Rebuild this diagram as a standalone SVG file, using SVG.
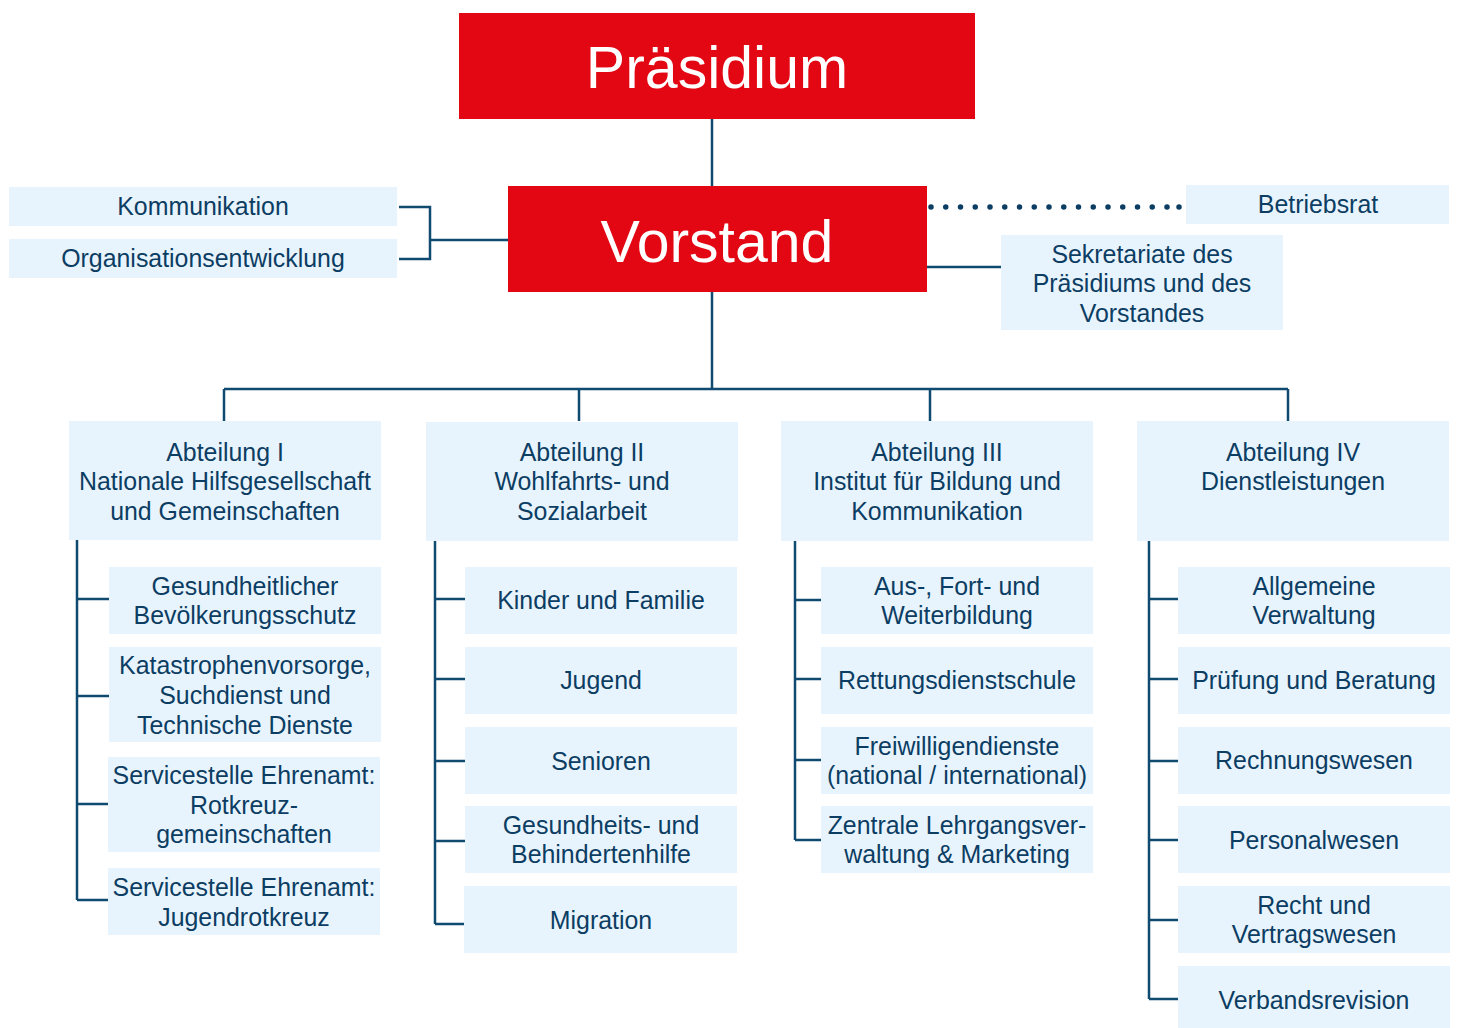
<svg xmlns="http://www.w3.org/2000/svg" width="1457" height="1028" viewBox="0 0 1457 1028">
<style>
.red{fill:#e30613}
.box{fill:#e8f4fd}
.big{font-family:"Liberation Sans",Arial,sans-serif;font-size:59px;fill:#ffffff;text-anchor:middle}
.t{font-family:"Liberation Sans",Arial,sans-serif;font-size:24.9px;fill:#0c3d63;text-anchor:middle}
.ln{stroke:#0f4a70;stroke-width:2.5;fill:none}
.dot{stroke:#0c3d63;stroke-width:5.5;stroke-linecap:round;stroke-dasharray:0 14.75;fill:none}
</style>
<rect width="1457" height="1028" fill="#ffffff"/>
<g id="connectors">
<path class="ln" d="M712 119V186M712 292V389M224 389H1288M224 389V421M579 389V421M930 389V421M1288 389V421"/>
<path class="ln" d="M399 207H430V259H399M430 240H508"/>
<path class="ln" d="M927 267H1001"/>
<path class="dot" d="M931 207H1168"/>
<circle cx="1179" cy="207" r="2.75" fill="#0c3d63"/>
<path class="ln" d="M77 540V900M77 599H109M77 696H109M77 804H108M77 900H108"/>
<path class="ln" d="M435 541V924M435 599H465M435 679H465M435 761H465M435 841H465M435 924H464"/>
<path class="ln" d="M795 541V840M795 600H821M795 679H821M795 760H821M795 840H821"/>
<path class="ln" d="M1149 541V999M1149 599H1178M1149 679H1178M1149 761H1178M1149 840H1178M1149 920H1178M1149 999H1178"/>
</g>
<g id="praesidium"><rect class="red" x="459" y="13" width="516" height="106"/><text class="big" x="717" y="88">Präsidium</text></g>
<g id="vorstand"><rect class="red" x="508" y="186" width="419" height="106"/><text class="big" x="717" y="262">Vorstand</text></g>
<g id="kommunikation"><rect class="box" x="9" y="187" width="388" height="39"/><text class="t" x="203" y="215">Kommunikation</text></g>
<g id="organisationsentwicklung"><rect class="box" x="9" y="239" width="388" height="39"/><text class="t" x="203" y="267">Organisationsentwicklung</text></g>
<g id="betriebsrat"><rect class="box" x="1186" y="185" width="263" height="39"/><text class="t" x="1318" y="213">Betriebsrat</text></g>
<g id="sekretariate"><rect class="box" x="1001" y="235" width="282" height="95"/><text class="t" x="1142" y="263">Sekretariate des</text><text class="t" x="1142" y="292">Präsidiums und des</text><text class="t" x="1142" y="322">Vorstandes</text></g>
<g id="abt1"><rect class="box" x="69" y="421" width="312" height="119"/><text class="t" x="225" y="461">Abteilung I</text><text class="t" x="225" y="490">Nationale Hilfsgesellschaft</text><text class="t" x="225" y="520">und Gemeinschaften</text></g>
<g id="abt1-1"><rect class="box" x="109" y="567" width="272" height="67"/><text class="t" x="245" y="595">Gesundheitlicher</text><text class="t" x="245" y="624">Bevölkerungsschutz</text></g>
<g id="abt1-2"><rect class="box" x="109" y="647" width="272" height="95"/><text class="t" x="245" y="674">Katastrophenvorsorge,</text><text class="t" x="245" y="704">Suchdienst und</text><text class="t" x="245" y="734">Technische Dienste</text></g>
<g id="abt1-3"><rect class="box" x="108" y="757" width="272" height="95"/><text class="t" x="244" y="784">Servicestelle Ehrenamt:</text><text class="t" x="244" y="814">Rotkreuz-</text><text class="t" x="244" y="843">gemeinschaften</text></g>
<g id="abt1-4"><rect class="box" x="108" y="868" width="272" height="67"/><text class="t" x="244" y="896">Servicestelle Ehrenamt:</text><text class="t" x="244" y="926">Jugendrotkreuz</text></g>
<g id="abt2"><rect class="box" x="426" y="422" width="312" height="119"/><text class="t" x="582" y="461">Abteilung II</text><text class="t" x="582" y="490">Wohlfahrts- und</text><text class="t" x="582" y="520">Sozialarbeit</text></g>
<g id="abt2-1"><rect class="box" x="465" y="567" width="272" height="67"/><text class="t" x="601" y="609">Kinder und Familie</text></g>
<g id="abt2-2"><rect class="box" x="465" y="647" width="272" height="67"/><text class="t" x="601" y="689">Jugend</text></g>
<g id="abt2-3"><rect class="box" x="465" y="727" width="272" height="67"/><text class="t" x="601" y="770">Senioren</text></g>
<g id="abt2-4"><rect class="box" x="465" y="806" width="272" height="67"/><text class="t" x="601" y="834">Gesundheits- und</text><text class="t" x="601" y="863">Behindertenhilfe</text></g>
<g id="abt2-5"><rect class="box" x="464" y="886" width="273" height="67"/><text class="t" x="601" y="929">Migration</text></g>
<g id="abt3"><rect class="box" x="781" y="421" width="312" height="120"/><text class="t" x="937" y="461">Abteilung III</text><text class="t" x="937" y="490">Institut für Bildung und</text><text class="t" x="937" y="520">Kommunikation</text></g>
<g id="abt3-1"><rect class="box" x="821" y="567" width="272" height="67"/><text class="t" x="957" y="595">Aus-, Fort- und</text><text class="t" x="957" y="624">Weiterbildung</text></g>
<g id="abt3-2"><rect class="box" x="821" y="647" width="272" height="67"/><text class="t" x="957" y="689">Rettungsdienstschule</text></g>
<g id="abt3-3"><rect class="box" x="821" y="727" width="272" height="67"/><text class="t" x="957" y="755">Freiwilligendienste</text><text class="t" x="957" y="784">(national / international)</text></g>
<g id="abt3-4"><rect class="box" x="821" y="806" width="272" height="67"/><text class="t" x="957" y="834">Zentrale Lehrgangsver-</text><text class="t" x="957" y="863">waltung &amp; Marketing</text></g>
<g id="abt4"><rect class="box" x="1137" y="421" width="312" height="120"/><text class="t" x="1293" y="461">Abteilung IV</text><text class="t" x="1293" y="490">Dienstleistungen</text></g>
<g id="abt4-1"><rect class="box" x="1178" y="567" width="272" height="67"/><text class="t" x="1314" y="595">Allgemeine</text><text class="t" x="1314" y="624">Verwaltung</text></g>
<g id="abt4-2"><rect class="box" x="1178" y="647" width="272" height="67"/><text class="t" x="1314" y="689">Prüfung und Beratung</text></g>
<g id="abt4-3"><rect class="box" x="1178" y="727" width="272" height="67"/><text class="t" x="1314" y="769">Rechnungswesen</text></g>
<g id="abt4-4"><rect class="box" x="1178" y="806" width="272" height="67"/><text class="t" x="1314" y="849">Personalwesen</text></g>
<g id="abt4-5"><rect class="box" x="1178" y="886" width="272" height="67"/><text class="t" x="1314" y="914">Recht und</text><text class="t" x="1314" y="943">Vertragswesen</text></g>
<g id="abt4-6"><rect class="box" x="1178" y="966" width="272" height="62"/><text class="t" x="1314" y="1009">Verbandsrevision</text></g>
</svg>
